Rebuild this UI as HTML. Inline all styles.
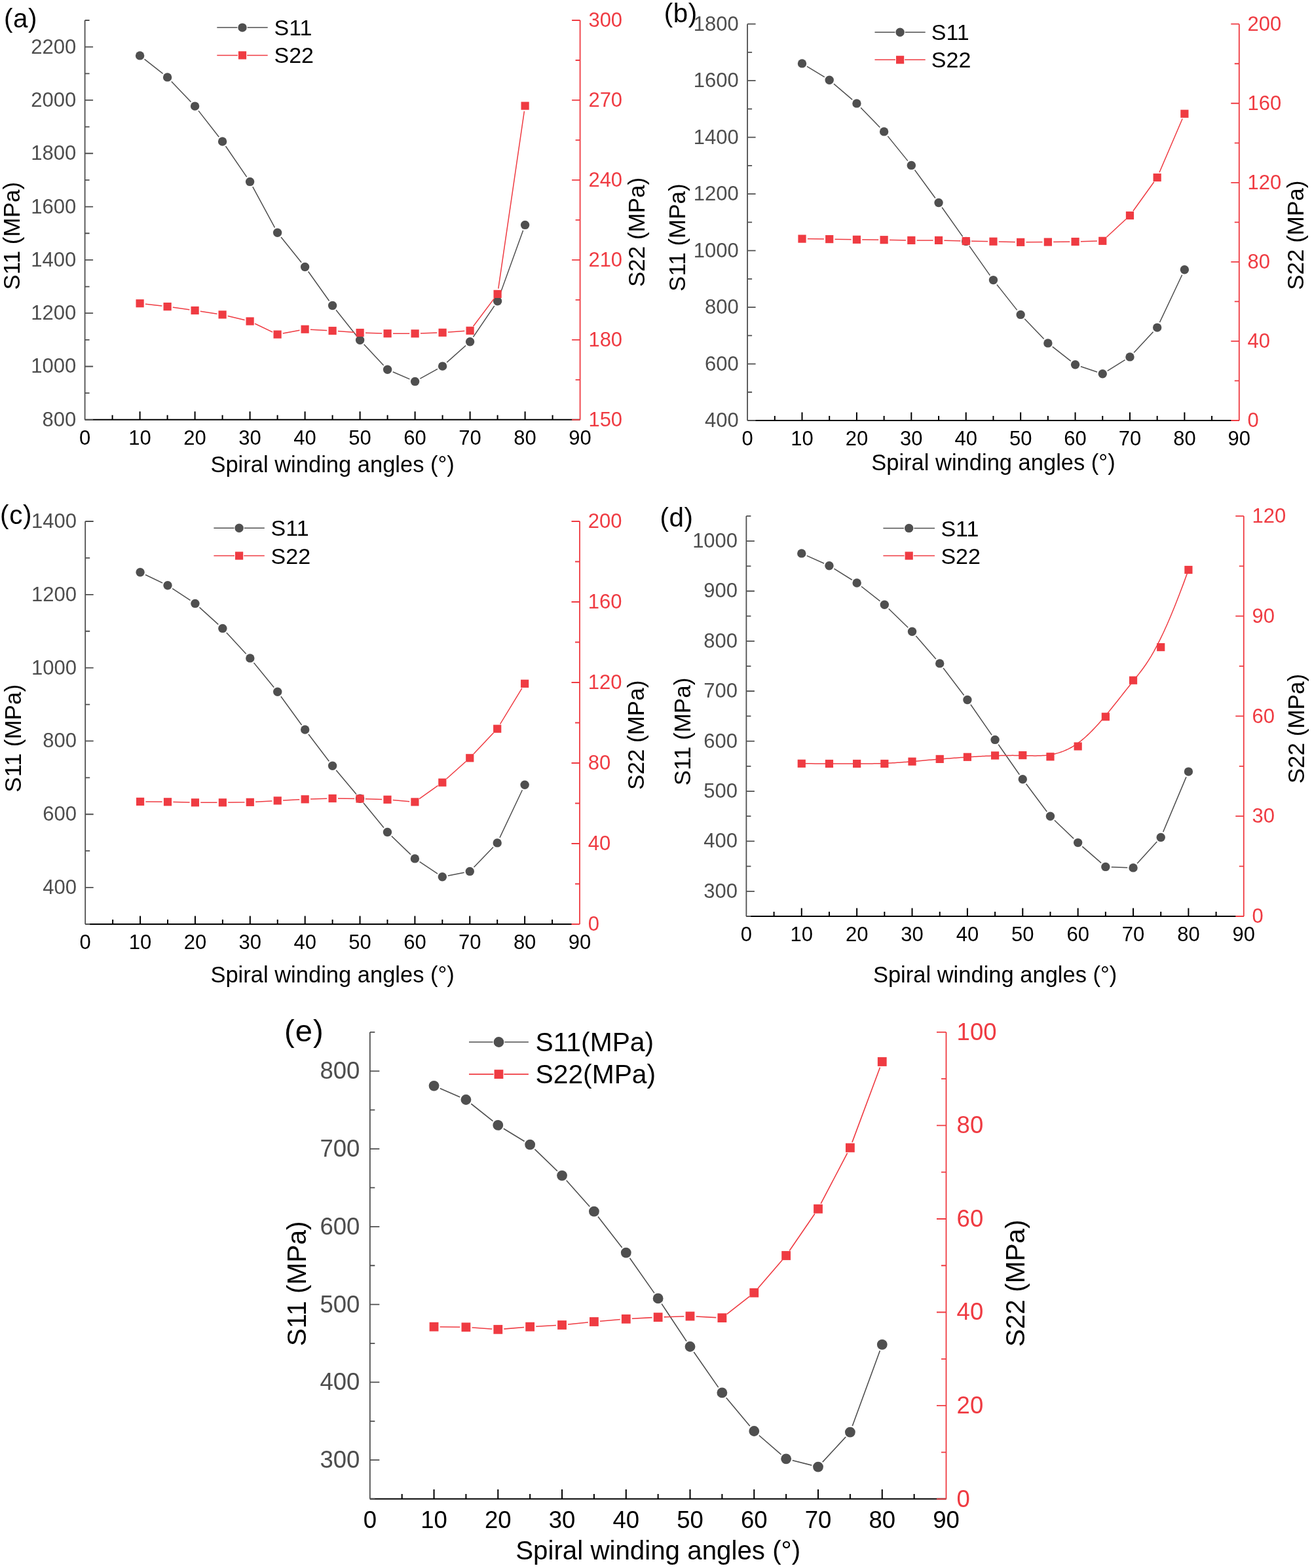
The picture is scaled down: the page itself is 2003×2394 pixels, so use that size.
<!DOCTYPE html>
<html><head><meta charset="utf-8"><title>Figure</title><style>html,body{margin:0;padding:0;background:#fff;overflow:hidden}svg{display:block}</style></head><body>
<svg width="2003" height="2394" viewBox="0 0 2003 2394" font-family="'Liberation Sans', Arial, sans-serif" fill="#000">
<rect width="2003" height="2394" fill="#fff"/>
<g id="pa">
<line x1="129.6" y1="640.8" x2="885.6" y2="640.8" stroke="#000" stroke-width="2"/>
<path d="M171.6 640.8v-7M213.6 640.8v-12.5M255.6 640.8v-7M297.6 640.8v-12.5M339.6 640.8v-7M381.6 640.8v-12.5M423.6 640.8v-7M465.6 640.8v-12.5M507.6 640.8v-7M549.6 640.8v-12.5M591.6 640.8v-7M633.6 640.8v-12.5M675.6 640.8v-7M717.6 640.8v-12.5M759.6 640.8v-7M801.6 640.8v-12.5M843.6 640.8v-7" stroke="#000" stroke-width="2" fill="none"/>
<g font-size="31" text-anchor="middle" fill="#000"><text x="129.6" y="678.8">0</text><text x="213.6" y="678.8">10</text><text x="297.6" y="678.8">20</text><text x="381.6" y="678.8">30</text><text x="465.6" y="678.8">40</text><text x="549.6" y="678.8">50</text><text x="633.6" y="678.8">60</text><text x="717.6" y="678.8">70</text><text x="801.6" y="678.8">80</text><text x="885.6" y="678.8">90</text></g>
<path d="M129.6 31V640.8M129.6 640.8h12.5M129.6 600.15h7M129.6 559.49h12.5M129.6 518.84h7M129.6 478.19h12.5M129.6 437.53h7M129.6 396.88h12.5M129.6 356.23h7M129.6 315.57h12.5M129.6 274.92h7M129.6 234.27h12.5M129.6 193.61h7M129.6 152.96h12.5M129.6 112.31h7M129.6 71.65h12.5M129.6 31h7" stroke="#4f4f4f" stroke-width="1.8" fill="none"/>
<g font-size="31" text-anchor="end" fill="#4d4d4d"><text x="116.3" y="650.8">800</text><text x="116.3" y="569.49">1000</text><text x="116.3" y="488.19">1200</text><text x="116.3" y="406.88">1400</text><text x="116.3" y="325.57">1600</text><text x="116.3" y="244.27">1800</text><text x="116.3" y="162.96">2000</text><text x="116.3" y="81.65">2200</text></g>
<path d="M885.6 31V640.8M885.6 640.8h-12.5M885.6 579.82h-7M885.6 518.84h-12.5M885.6 457.86h-7M885.6 396.88h-12.5M885.6 335.9h-7M885.6 274.92h-12.5M885.6 213.94h-7M885.6 152.96h-12.5M885.6 91.98h-7M885.6 31h-12.5" stroke="#ef3b42" stroke-width="1.8" fill="none"/>
<g font-size="31" text-anchor="start" fill="#ef3b42"><text x="898.4" y="650.9">150</text><text x="898.4" y="528.94">180</text><text x="898.4" y="406.98">210</text><text x="898.4" y="285.02">240</text><text x="898.4" y="163.06">270</text><text x="898.4" y="41.1">300</text></g>
<text x="507.6" y="721.1" font-size="34.5" text-anchor="middle">Spiral winding angles (°)</text>
<text transform="translate(30 360.2) rotate(-90)" font-size="35" text-anchor="middle">S11 (MPa)</text>
<text transform="translate(984 354.4) rotate(-90)" font-size="35" text-anchor="middle">S22 (MPa)</text>
<text x="6" y="42" font-size="40.4" letter-spacing="0.6">(a)</text>
<mask id="m11a" maskUnits="userSpaceOnUse" x="0" y="0" width="2003" height="2394"><rect width="2003" height="2394" fill="#fff"/><g fill="#000"><circle cx="213.6" cy="84.9" r="8.9"/><circle cx="255.6" cy="117.9" r="8.9"/><circle cx="297.6" cy="162.1" r="8.9"/><circle cx="339.6" cy="216" r="8.9"/><circle cx="381.6" cy="277.4" r="8.9"/><circle cx="423.6" cy="355.2" r="8.9"/><circle cx="465.6" cy="407.5" r="8.9"/><circle cx="507.6" cy="466.5" r="8.9"/><circle cx="549.6" cy="519.3" r="8.9"/><circle cx="591.6" cy="564.3" r="8.9"/><circle cx="633.6" cy="582.4" r="8.9"/><circle cx="675.6" cy="559.1" r="8.9"/><circle cx="717.6" cy="521.7" r="8.9"/><circle cx="759.6" cy="459.8" r="8.9"/><circle cx="801.6" cy="343.4" r="8.9"/></g></mask>
<mask id="m22a" maskUnits="userSpaceOnUse" x="0" y="0" width="2003" height="2394"><rect width="2003" height="2394" fill="#fff"/><g fill="#000"><circle cx="213.6" cy="463.2" r="8.4"/><circle cx="255.6" cy="468.1" r="8.4"/><circle cx="297.6" cy="474" r="8.4"/><circle cx="339.6" cy="480.4" r="8.4"/><circle cx="381.6" cy="490.5" r="8.4"/><circle cx="423.6" cy="510.6" r="8.4"/><circle cx="465.6" cy="502.7" r="8.4"/><circle cx="507.6" cy="505" r="8.4"/><circle cx="549.6" cy="508" r="8.4"/><circle cx="591.6" cy="509.2" r="8.4"/><circle cx="633.6" cy="509.3" r="8.4"/><circle cx="675.6" cy="507.8" r="8.4"/><circle cx="717.6" cy="504.8" r="8.4"/><circle cx="759.6" cy="448.9" r="8.4"/><circle cx="801.6" cy="161.6" r="8.4"/></g></mask>
<polyline points="213.6,84.9 255.6,117.9 297.6,162.1 339.6,216 381.6,277.4 423.6,355.2 465.6,407.5 507.6,466.5 549.6,519.3 591.6,564.3 633.6,582.4 675.6,559.1 717.6,521.7 759.6,459.8 801.6,343.4" fill="none" stroke="#4f4f4f" stroke-width="1.5" stroke-linejoin="round" mask="url(#m11a)"/>
<g fill="#4f4f4f"><circle cx="213.6" cy="84.9" r="6.7"/><circle cx="255.6" cy="117.9" r="6.7"/><circle cx="297.6" cy="162.1" r="6.7"/><circle cx="339.6" cy="216" r="6.7"/><circle cx="381.6" cy="277.4" r="6.7"/><circle cx="423.6" cy="355.2" r="6.7"/><circle cx="465.6" cy="407.5" r="6.7"/><circle cx="507.6" cy="466.5" r="6.7"/><circle cx="549.6" cy="519.3" r="6.7"/><circle cx="591.6" cy="564.3" r="6.7"/><circle cx="633.6" cy="582.4" r="6.7"/><circle cx="675.6" cy="559.1" r="6.7"/><circle cx="717.6" cy="521.7" r="6.7"/><circle cx="759.6" cy="459.8" r="6.7"/><circle cx="801.6" cy="343.4" r="6.7"/></g>
<polyline points="213.6,463.2 255.6,468.1 297.6,474 339.6,480.4 381.6,490.5 423.6,510.6 465.6,502.7 507.6,505 549.6,508 591.6,509.2 633.6,509.3 675.6,507.8 717.6,504.8 759.6,448.9 801.6,161.6" fill="none" stroke="#ef3b42" stroke-width="1.5" stroke-linejoin="round" mask="url(#m22a)"/>
<g fill="#ef3b42"><rect x="207.5" y="457.1" width="12.2" height="12.2"/><rect x="249.5" y="462" width="12.2" height="12.2"/><rect x="291.5" y="467.9" width="12.2" height="12.2"/><rect x="333.5" y="474.3" width="12.2" height="12.2"/><rect x="375.5" y="484.4" width="12.2" height="12.2"/><rect x="417.5" y="504.5" width="12.2" height="12.2"/><rect x="459.5" y="496.6" width="12.2" height="12.2"/><rect x="501.5" y="498.9" width="12.2" height="12.2"/><rect x="543.5" y="501.9" width="12.2" height="12.2"/><rect x="585.5" y="503.1" width="12.2" height="12.2"/><rect x="627.5" y="503.2" width="12.2" height="12.2"/><rect x="669.5" y="501.7" width="12.2" height="12.2"/><rect x="711.5" y="498.7" width="12.2" height="12.2"/><rect x="753.5" y="442.8" width="12.2" height="12.2"/><rect x="795.5" y="155.5" width="12.2" height="12.2"/></g>
<path d="M331.3 42.1H362.3M377.7 42.1H408.7" stroke="#4f4f4f" stroke-width="1.5"/>
<circle cx="370" cy="42.1" r="6.7" fill="#4f4f4f"/>
<path d="M331.3 84.4H362.9M377.1 84.4H408.7" stroke="#ef3b42" stroke-width="1.5"/>
<rect x="363.9" y="78.3" width="12.2" height="12.2" fill="#ef3b42"/>
<g font-size="34"><text x="418.5" y="54.1">S11</text><text x="418.5" y="96.3">S22</text></g>
</g>
<g id="pb">
<line x1="1141.1" y1="642" x2="1891.8" y2="642" stroke="#000" stroke-width="2"/>
<path d="M1182.81 642v-7M1224.51 642v-12.5M1266.22 642v-7M1307.92 642v-12.5M1349.63 642v-7M1391.33 642v-12.5M1433.04 642v-7M1474.74 642v-12.5M1516.45 642v-7M1558.16 642v-12.5M1599.86 642v-7M1641.57 642v-12.5M1683.27 642v-7M1724.98 642v-12.5M1766.68 642v-7M1808.39 642v-12.5M1850.09 642v-7" stroke="#000" stroke-width="2" fill="none"/>
<g font-size="31" text-anchor="middle" fill="#000"><text x="1141.1" y="680">0</text><text x="1224.51" y="680">10</text><text x="1307.92" y="680">20</text><text x="1391.33" y="680">30</text><text x="1474.74" y="680">40</text><text x="1558.16" y="680">50</text><text x="1641.57" y="680">60</text><text x="1724.98" y="680">70</text><text x="1808.39" y="680">80</text><text x="1891.8" y="680">90</text></g>
<path d="M1141.1 36.7V642M1141.1 642h12.5M1141.1 598.76h7M1141.1 555.53h12.5M1141.1 512.29h7M1141.1 469.06h12.5M1141.1 425.82h7M1141.1 382.59h12.5M1141.1 339.35h7M1141.1 296.11h12.5M1141.1 252.88h7M1141.1 209.64h12.5M1141.1 166.41h7M1141.1 123.17h12.5M1141.1 79.94h7M1141.1 36.7h12.5" stroke="#4f4f4f" stroke-width="1.8" fill="none"/>
<g font-size="31" text-anchor="end" fill="#4d4d4d"><text x="1127.8" y="652">400</text><text x="1127.8" y="565.53">600</text><text x="1127.8" y="479.06">800</text><text x="1127.8" y="392.59">1000</text><text x="1127.8" y="306.11">1200</text><text x="1127.8" y="219.64">1400</text><text x="1127.8" y="133.17">1600</text><text x="1127.8" y="46.7">1800</text></g>
<path d="M1891.8 36.7V642M1891.8 642h-12.5M1891.8 581.47h-7M1891.8 520.94h-12.5M1891.8 460.41h-7M1891.8 399.88h-12.5M1891.8 339.35h-7M1891.8 278.82h-12.5M1891.8 218.29h-7M1891.8 157.76h-12.5M1891.8 97.23h-7M1891.8 36.7h-12.5" stroke="#ef3b42" stroke-width="1.8" fill="none"/>
<g font-size="31" text-anchor="start" fill="#ef3b42"><text x="1904.6" y="652.1">0</text><text x="1904.6" y="531.04">40</text><text x="1904.6" y="409.98">80</text><text x="1904.6" y="288.92">120</text><text x="1904.6" y="167.86">160</text><text x="1904.6" y="46.8">200</text></g>
<text x="1516.45" y="718.2" font-size="34.5" text-anchor="middle">Spiral winding angles (°)</text>
<text transform="translate(1046 362.6) rotate(-90)" font-size="35" text-anchor="middle">S11 (MPa)</text>
<text transform="translate(1989.7 359.2) rotate(-90)" font-size="35" text-anchor="middle">S22 (MPa)</text>
<text x="1013.7" y="34.3" font-size="40.4" letter-spacing="0.6">(b)</text>
<mask id="m11b" maskUnits="userSpaceOnUse" x="0" y="0" width="2003" height="2394"><rect width="2003" height="2394" fill="#fff"/><g fill="#000"><circle cx="1224.51" cy="96.9" r="8.9"/><circle cx="1266.22" cy="122.2" r="8.9"/><circle cx="1307.92" cy="157.9" r="8.9"/><circle cx="1349.63" cy="200.9" r="8.9"/><circle cx="1391.33" cy="252.4" r="8.9"/><circle cx="1433.04" cy="309.5" r="8.9"/><circle cx="1474.74" cy="368.4" r="8.9"/><circle cx="1516.45" cy="427.6" r="8.9"/><circle cx="1558.16" cy="480.4" r="8.9"/><circle cx="1599.86" cy="523.9" r="8.9"/><circle cx="1641.57" cy="556.7" r="8.9"/><circle cx="1683.27" cy="570.8" r="8.9"/><circle cx="1724.98" cy="544.9" r="8.9"/><circle cx="1766.68" cy="500.1" r="8.9"/><circle cx="1808.39" cy="411.8" r="8.9"/></g></mask>
<mask id="m22b" maskUnits="userSpaceOnUse" x="0" y="0" width="2003" height="2394"><rect width="2003" height="2394" fill="#fff"/><g fill="#000"><circle cx="1224.51" cy="364.6" r="8.4"/><circle cx="1266.22" cy="365.1" r="8.4"/><circle cx="1307.92" cy="365.8" r="8.4"/><circle cx="1349.63" cy="366.2" r="8.4"/><circle cx="1391.33" cy="366.9" r="8.4"/><circle cx="1433.04" cy="366.9" r="8.4"/><circle cx="1474.74" cy="368.1" r="8.4"/><circle cx="1516.45" cy="368.7" r="8.4"/><circle cx="1558.16" cy="369.8" r="8.4"/><circle cx="1599.86" cy="369.5" r="8.4"/><circle cx="1641.57" cy="369" r="8.4"/><circle cx="1683.27" cy="367.8" r="8.4"/><circle cx="1724.98" cy="329" r="8.4"/><circle cx="1766.68" cy="271" r="8.4"/><circle cx="1808.39" cy="173.7" r="8.4"/></g></mask>
<polyline points="1224.51,96.9 1266.22,122.2 1307.92,157.9 1349.63,200.9 1391.33,252.4 1433.04,309.5 1474.74,368.4 1516.45,427.6 1558.16,480.4 1599.86,523.9 1641.57,556.7 1683.27,570.8 1724.98,544.9 1766.68,500.1 1808.39,411.8" fill="none" stroke="#4f4f4f" stroke-width="1.5" stroke-linejoin="round" mask="url(#m11b)"/>
<g fill="#4f4f4f"><circle cx="1224.51" cy="96.9" r="6.7"/><circle cx="1266.22" cy="122.2" r="6.7"/><circle cx="1307.92" cy="157.9" r="6.7"/><circle cx="1349.63" cy="200.9" r="6.7"/><circle cx="1391.33" cy="252.4" r="6.7"/><circle cx="1433.04" cy="309.5" r="6.7"/><circle cx="1474.74" cy="368.4" r="6.7"/><circle cx="1516.45" cy="427.6" r="6.7"/><circle cx="1558.16" cy="480.4" r="6.7"/><circle cx="1599.86" cy="523.9" r="6.7"/><circle cx="1641.57" cy="556.7" r="6.7"/><circle cx="1683.27" cy="570.8" r="6.7"/><circle cx="1724.98" cy="544.9" r="6.7"/><circle cx="1766.68" cy="500.1" r="6.7"/><circle cx="1808.39" cy="411.8" r="6.7"/></g>
<polyline points="1224.51,364.6 1266.22,365.1 1307.92,365.8 1349.63,366.2 1391.33,366.9 1433.04,366.9 1474.74,368.1 1516.45,368.7 1558.16,369.8 1599.86,369.5 1641.57,369 1683.27,367.8 1724.98,329 1766.68,271 1808.39,173.7" fill="none" stroke="#ef3b42" stroke-width="1.5" stroke-linejoin="round" mask="url(#m22b)"/>
<g fill="#ef3b42"><rect x="1218.41" y="358.5" width="12.2" height="12.2"/><rect x="1260.12" y="359" width="12.2" height="12.2"/><rect x="1301.82" y="359.7" width="12.2" height="12.2"/><rect x="1343.53" y="360.1" width="12.2" height="12.2"/><rect x="1385.23" y="360.8" width="12.2" height="12.2"/><rect x="1426.94" y="360.8" width="12.2" height="12.2"/><rect x="1468.64" y="362" width="12.2" height="12.2"/><rect x="1510.35" y="362.6" width="12.2" height="12.2"/><rect x="1552.06" y="363.7" width="12.2" height="12.2"/><rect x="1593.76" y="363.4" width="12.2" height="12.2"/><rect x="1635.47" y="362.9" width="12.2" height="12.2"/><rect x="1677.17" y="361.7" width="12.2" height="12.2"/><rect x="1718.88" y="322.9" width="12.2" height="12.2"/><rect x="1760.58" y="264.9" width="12.2" height="12.2"/><rect x="1802.29" y="167.6" width="12.2" height="12.2"/></g>
<path d="M1335.5 49.3H1366.4M1381.8 49.3H1412.7" stroke="#4f4f4f" stroke-width="1.5"/>
<circle cx="1374.1" cy="49.3" r="6.7" fill="#4f4f4f"/>
<path d="M1335.5 91.3H1367M1381.2 91.3H1412.7" stroke="#ef3b42" stroke-width="1.5"/>
<rect x="1368" y="85.2" width="12.2" height="12.2" fill="#ef3b42"/>
<g font-size="34"><text x="1421.8" y="61.1">S11</text><text x="1421.8" y="103.3">S22</text></g>
</g>
<g id="pc">
<line x1="130.2" y1="1411" x2="885" y2="1411" stroke="#000" stroke-width="2"/>
<path d="M172.13 1411v-7M214.07 1411v-12.5M256 1411v-7M297.93 1411v-12.5M339.87 1411v-7M381.8 1411v-12.5M423.73 1411v-7M465.67 1411v-12.5M507.6 1411v-7M549.53 1411v-12.5M591.47 1411v-7M633.4 1411v-12.5M675.33 1411v-7M717.27 1411v-12.5M759.2 1411v-7M801.13 1411v-12.5M843.07 1411v-7" stroke="#000" stroke-width="2" fill="none"/>
<g font-size="31" text-anchor="middle" fill="#000"><text x="130.2" y="1449">0</text><text x="214.07" y="1449">10</text><text x="297.93" y="1449">20</text><text x="381.8" y="1449">30</text><text x="465.67" y="1449">40</text><text x="549.53" y="1449">50</text><text x="633.4" y="1449">60</text><text x="717.27" y="1449">70</text><text x="801.13" y="1449">80</text><text x="885" y="1449">90</text></g>
<path d="M130.2 796V1411M130.2 1411h7M130.2 1355.09h12.5M130.2 1299.18h7M130.2 1243.27h12.5M130.2 1187.36h7M130.2 1131.45h12.5M130.2 1075.55h7M130.2 1019.64h12.5M130.2 963.73h7M130.2 907.82h12.5M130.2 851.91h7M130.2 796h12.5" stroke="#4f4f4f" stroke-width="1.8" fill="none"/>
<g font-size="31" text-anchor="end" fill="#4d4d4d"><text x="116.9" y="1365.09">400</text><text x="116.9" y="1253.27">600</text><text x="116.9" y="1141.45">800</text><text x="116.9" y="1029.64">1000</text><text x="116.9" y="917.82">1200</text><text x="116.9" y="806">1400</text></g>
<path d="M885 796V1411M885 1411h-12.5M885 1349.5h-7M885 1288h-12.5M885 1226.5h-7M885 1165h-12.5M885 1103.5h-7M885 1042h-12.5M885 980.5h-7M885 919h-12.5M885 857.5h-7M885 796h-12.5" stroke="#ef3b42" stroke-width="1.8" fill="none"/>
<g font-size="31" text-anchor="start" fill="#ef3b42"><text x="897.8" y="1421.1">0</text><text x="897.8" y="1298.1">40</text><text x="897.8" y="1175.1">80</text><text x="897.8" y="1052.1">120</text><text x="897.8" y="929.1">160</text><text x="897.8" y="806.1">200</text></g>
<text x="507.6" y="1499.6" font-size="34.5" text-anchor="middle">Spiral winding angles (°)</text>
<text transform="translate(32.2 1127.3) rotate(-90)" font-size="35" text-anchor="middle">S11 (MPa)</text>
<text transform="translate(982.7 1122.3) rotate(-90)" font-size="35" text-anchor="middle">S22 (MPa)</text>
<text x="0.1" y="800" font-size="40.4" letter-spacing="0.6">(c)</text>
<mask id="m11c" maskUnits="userSpaceOnUse" x="0" y="0" width="2003" height="2394"><rect width="2003" height="2394" fill="#fff"/><g fill="#000"><circle cx="214.07" cy="873.7" r="8.9"/><circle cx="256" cy="893.8" r="8.9"/><circle cx="297.93" cy="921.4" r="8.9"/><circle cx="339.87" cy="959.4" r="8.9"/><circle cx="381.8" cy="1004.9" r="8.9"/><circle cx="423.73" cy="1056.3" r="8.9"/><circle cx="465.67" cy="1114" r="8.9"/><circle cx="507.6" cy="1169.3" r="8.9"/><circle cx="549.53" cy="1219.2" r="8.9"/><circle cx="591.47" cy="1270.5" r="8.9"/><circle cx="633.4" cy="1310.9" r="8.9"/><circle cx="675.33" cy="1338.8" r="8.9"/><circle cx="717.27" cy="1330.4" r="8.9"/><circle cx="759.2" cy="1286.9" r="8.9"/><circle cx="801.13" cy="1198.2" r="8.9"/></g></mask>
<mask id="m22c" maskUnits="userSpaceOnUse" x="0" y="0" width="2003" height="2394"><rect width="2003" height="2394" fill="#fff"/><g fill="#000"><circle cx="214.07" cy="1223.9" r="8.4"/><circle cx="256" cy="1224.3" r="8.4"/><circle cx="297.93" cy="1225.3" r="8.4"/><circle cx="339.87" cy="1225.3" r="8.4"/><circle cx="381.8" cy="1224.8" r="8.4"/><circle cx="423.73" cy="1222.4" r="8.4"/><circle cx="465.67" cy="1220.3" r="8.4"/><circle cx="507.6" cy="1219" r="8.4"/><circle cx="549.53" cy="1219.5" r="8.4"/><circle cx="591.47" cy="1220.8" r="8.4"/><circle cx="633.4" cy="1224.4" r="8.4"/><circle cx="675.33" cy="1194.7" r="8.4"/><circle cx="717.27" cy="1157.3" r="8.4"/><circle cx="759.2" cy="1112.7" r="8.4"/><circle cx="801.13" cy="1043.8" r="8.4"/></g></mask>
<polyline points="214.07,873.7 256,893.8 297.93,921.4 339.87,959.4 381.8,1004.9 423.73,1056.3 465.67,1114 507.6,1169.3 549.53,1219.2 591.47,1270.5 633.4,1310.9 675.33,1338.8 717.27,1330.4 759.2,1286.9 801.13,1198.2" fill="none" stroke="#4f4f4f" stroke-width="1.5" stroke-linejoin="round" mask="url(#m11c)"/>
<g fill="#4f4f4f"><circle cx="214.07" cy="873.7" r="6.7"/><circle cx="256" cy="893.8" r="6.7"/><circle cx="297.93" cy="921.4" r="6.7"/><circle cx="339.87" cy="959.4" r="6.7"/><circle cx="381.8" cy="1004.9" r="6.7"/><circle cx="423.73" cy="1056.3" r="6.7"/><circle cx="465.67" cy="1114" r="6.7"/><circle cx="507.6" cy="1169.3" r="6.7"/><circle cx="549.53" cy="1219.2" r="6.7"/><circle cx="591.47" cy="1270.5" r="6.7"/><circle cx="633.4" cy="1310.9" r="6.7"/><circle cx="675.33" cy="1338.8" r="6.7"/><circle cx="717.27" cy="1330.4" r="6.7"/><circle cx="759.2" cy="1286.9" r="6.7"/><circle cx="801.13" cy="1198.2" r="6.7"/></g>
<polyline points="214.07,1223.9 256,1224.3 297.93,1225.3 339.87,1225.3 381.8,1224.8 423.73,1222.4 465.67,1220.3 507.6,1219 549.53,1219.5 591.47,1220.8 633.4,1224.4 675.33,1194.7 717.27,1157.3 759.2,1112.7 801.13,1043.8" fill="none" stroke="#ef3b42" stroke-width="1.5" stroke-linejoin="round" mask="url(#m22c)"/>
<g fill="#ef3b42"><rect x="207.97" y="1217.8" width="12.2" height="12.2"/><rect x="249.9" y="1218.2" width="12.2" height="12.2"/><rect x="291.83" y="1219.2" width="12.2" height="12.2"/><rect x="333.77" y="1219.2" width="12.2" height="12.2"/><rect x="375.7" y="1218.7" width="12.2" height="12.2"/><rect x="417.63" y="1216.3" width="12.2" height="12.2"/><rect x="459.57" y="1214.2" width="12.2" height="12.2"/><rect x="501.5" y="1212.9" width="12.2" height="12.2"/><rect x="543.43" y="1213.4" width="12.2" height="12.2"/><rect x="585.37" y="1214.7" width="12.2" height="12.2"/><rect x="627.3" y="1218.3" width="12.2" height="12.2"/><rect x="669.23" y="1188.6" width="12.2" height="12.2"/><rect x="711.17" y="1151.2" width="12.2" height="12.2"/><rect x="753.1" y="1106.6" width="12.2" height="12.2"/><rect x="795.03" y="1037.7" width="12.2" height="12.2"/></g>
<path d="M326.4 806.2H357.4M372.8 806.2H403.8" stroke="#4f4f4f" stroke-width="1.5"/>
<circle cx="365.1" cy="806.2" r="6.7" fill="#4f4f4f"/>
<path d="M326.4 848.5H358M372.2 848.5H403.8" stroke="#ef3b42" stroke-width="1.5"/>
<rect x="359" y="842.4" width="12.2" height="12.2" fill="#ef3b42"/>
<g font-size="34"><text x="413.6" y="818.2">S11</text><text x="413.6" y="860.8">S22</text></g>
</g>
<g id="pd">
<line x1="1139.4" y1="1399" x2="1898.8" y2="1399" stroke="#000" stroke-width="2"/>
<path d="M1181.59 1399v-7M1223.78 1399v-12.5M1265.97 1399v-7M1308.16 1399v-12.5M1350.34 1399v-7M1392.53 1399v-12.5M1434.72 1399v-7M1476.91 1399v-12.5M1519.1 1399v-7M1561.29 1399v-12.5M1603.48 1399v-7M1645.67 1399v-12.5M1687.86 1399v-7M1730.04 1399v-12.5M1772.23 1399v-7M1814.42 1399v-12.5M1856.61 1399v-7" stroke="#000" stroke-width="2" fill="none"/>
<g font-size="31" text-anchor="middle" fill="#000"><text x="1139.4" y="1437">0</text><text x="1223.78" y="1437">10</text><text x="1308.16" y="1437">20</text><text x="1392.53" y="1437">30</text><text x="1476.91" y="1437">40</text><text x="1561.29" y="1437">50</text><text x="1645.67" y="1437">60</text><text x="1730.04" y="1437">70</text><text x="1814.42" y="1437">80</text><text x="1898.8" y="1437">90</text></g>
<path d="M1139.4 787.9V1399M1139.4 1399h7M1139.4 1360.81h12.5M1139.4 1322.61h7M1139.4 1284.42h12.5M1139.4 1246.22h7M1139.4 1208.03h12.5M1139.4 1169.84h7M1139.4 1131.64h12.5M1139.4 1093.45h7M1139.4 1055.26h12.5M1139.4 1017.06h7M1139.4 978.87h12.5M1139.4 940.67h7M1139.4 902.48h12.5M1139.4 864.29h7M1139.4 826.09h12.5M1139.4 787.9h7" stroke="#4f4f4f" stroke-width="1.8" fill="none"/>
<g font-size="31" text-anchor="end" fill="#4d4d4d"><text x="1126.1" y="1370.81">300</text><text x="1126.1" y="1294.42">400</text><text x="1126.1" y="1218.03">500</text><text x="1126.1" y="1141.64">600</text><text x="1126.1" y="1065.26">700</text><text x="1126.1" y="988.87">800</text><text x="1126.1" y="912.48">900</text><text x="1126.1" y="836.09">1000</text></g>
<path d="M1898.8 787.9V1399M1898.8 1399h-12.5M1898.8 1322.61h-7M1898.8 1246.22h-12.5M1898.8 1169.84h-7M1898.8 1093.45h-12.5M1898.8 1017.06h-7M1898.8 940.67h-12.5M1898.8 864.29h-7M1898.8 787.9h-12.5" stroke="#ef3b42" stroke-width="1.8" fill="none"/>
<g font-size="31" text-anchor="start" fill="#ef3b42"><text x="1911.6" y="1409.1">0</text><text x="1911.6" y="1256.32">30</text><text x="1911.6" y="1103.55">60</text><text x="1911.6" y="950.77">90</text><text x="1911.6" y="798">120</text></g>
<text x="1519.1" y="1500" font-size="34.5" text-anchor="middle">Spiral winding angles (°)</text>
<text transform="translate(1053.6 1117) rotate(-90)" font-size="35" text-anchor="middle">S11 (MPa)</text>
<text transform="translate(1991.2 1112.6) rotate(-90)" font-size="35" text-anchor="middle">S22 (MPa)</text>
<text x="1007.4" y="804.3" font-size="40.4" letter-spacing="0.6">(d)</text>
<mask id="m11d" maskUnits="userSpaceOnUse" x="0" y="0" width="2003" height="2394"><rect width="2003" height="2394" fill="#fff"/><g fill="#000"><circle cx="1223.78" cy="844.9" r="8.9"/><circle cx="1265.97" cy="863.7" r="8.9"/><circle cx="1308.16" cy="890" r="8.9"/><circle cx="1350.34" cy="923.2" r="8.9"/><circle cx="1392.53" cy="964.2" r="8.9"/><circle cx="1434.72" cy="1012.9" r="8.9"/><circle cx="1476.91" cy="1068.5" r="8.9"/><circle cx="1519.1" cy="1129.4" r="8.9"/><circle cx="1561.29" cy="1189.8" r="8.9"/><circle cx="1603.48" cy="1246.2" r="8.9"/><circle cx="1645.67" cy="1286.6" r="8.9"/><circle cx="1687.86" cy="1323.4" r="8.9"/><circle cx="1730.04" cy="1324.9" r="8.9"/><circle cx="1772.23" cy="1278.5" r="8.9"/><circle cx="1814.42" cy="1178.1" r="8.9"/></g></mask>
<polyline points="1223.78,844.9 1265.97,863.7 1308.16,890 1350.34,923.2 1392.53,964.2 1434.72,1012.9 1476.91,1068.5 1519.1,1129.4 1561.29,1189.8 1603.48,1246.2 1645.67,1286.6 1687.86,1323.4 1730.04,1324.9 1772.23,1278.5 1814.42,1178.1" fill="none" stroke="#4f4f4f" stroke-width="1.5" stroke-linejoin="round" mask="url(#m11d)"/>
<g fill="#4f4f4f"><circle cx="1223.78" cy="844.9" r="6.7"/><circle cx="1265.97" cy="863.7" r="6.7"/><circle cx="1308.16" cy="890" r="6.7"/><circle cx="1350.34" cy="923.2" r="6.7"/><circle cx="1392.53" cy="964.2" r="6.7"/><circle cx="1434.72" cy="1012.9" r="6.7"/><circle cx="1476.91" cy="1068.5" r="6.7"/><circle cx="1519.1" cy="1129.4" r="6.7"/><circle cx="1561.29" cy="1189.8" r="6.7"/><circle cx="1603.48" cy="1246.2" r="6.7"/><circle cx="1645.67" cy="1286.6" r="6.7"/><circle cx="1687.86" cy="1323.4" r="6.7"/><circle cx="1730.04" cy="1324.9" r="6.7"/><circle cx="1772.23" cy="1278.5" r="6.7"/><circle cx="1814.42" cy="1178.1" r="6.7"/></g>
<polyline points="1223.78,1165.8 1231.18,1165.83 1238.15,1165.86 1244.71,1165.89 1250.87,1165.91 1256.67,1165.93 1262.12,1165.95 1267.25,1165.96 1272.08,1165.97 1276.64,1165.98 1280.94,1165.99 1285.02,1165.99 1288.89,1166 1292.57,1166 1296.1,1166 1299.49,1166 1302.77,1166 1305.96,1166 1309.07,1166 1312.11,1166 1315.09,1166 1318,1165.99 1320.86,1165.98 1323.67,1165.97 1326.43,1165.95 1329.15,1165.93 1331.83,1165.9 1334.48,1165.86 1337.09,1165.82 1339.69,1165.77 1342.26,1165.71 1344.82,1165.64 1347.38,1165.56 1349.92,1165.47 1352.46,1165.36 1355.01,1165.25 1357.55,1165.12 1360.1,1164.99 1362.64,1164.84 1365.18,1164.69 1367.73,1164.52 1370.27,1164.35 1372.82,1164.17 1375.36,1163.99 1377.91,1163.8 1380.45,1163.6 1382.99,1163.4 1385.54,1163.2 1388.08,1162.99 1390.63,1162.78 1393.17,1162.56 1395.71,1162.35 1398.26,1162.13 1400.8,1161.91 1403.35,1161.69 1405.89,1161.47 1408.43,1161.25 1410.98,1161.03 1413.52,1160.81 1416.07,1160.59 1418.61,1160.37 1421.15,1160.16 1423.7,1159.94 1426.24,1159.72 1428.79,1159.51 1431.33,1159.3 1433.87,1159.09 1436.42,1158.88 1438.96,1158.67 1441.51,1158.47 1444.05,1158.27 1446.59,1158.07 1449.14,1157.88 1451.68,1157.69 1454.23,1157.5 1456.77,1157.31 1459.31,1157.13 1461.86,1156.95 1464.4,1156.77 1466.95,1156.59 1469.49,1156.42 1472.04,1156.25 1474.58,1156.08 1477.12,1155.92 1479.67,1155.76 1482.21,1155.6 1484.76,1155.45 1487.3,1155.3 1489.84,1155.15 1492.39,1155.01 1494.93,1154.87 1497.48,1154.73 1500.02,1154.6 1502.56,1154.48 1505.11,1154.36 1507.65,1154.25 1510.2,1154.14 1512.74,1154.04 1515.28,1153.95 1517.83,1153.86 1520.37,1153.78 1522.92,1153.7 1525.46,1153.64 1528,1153.58 1530.55,1153.52 1533.09,1153.48 1535.64,1153.44 1538.18,1153.41 1540.72,1153.39 1543.27,1153.38 1545.81,1153.37 1548.36,1153.38 1550.9,1153.39 1553.44,1153.41 1555.99,1153.44 1558.53,1153.48 1561.08,1153.53 1563.62,1153.59 1566.16,1153.65 1568.71,1153.71 1571.25,1153.77 1573.8,1153.82 1576.34,1153.86 1578.89,1153.89 1581.43,1153.89 1583.97,1153.86 1586.52,1153.8 1589.06,1153.71 1591.61,1153.58 1594.15,1153.4 1596.69,1153.18 1599.24,1152.9 1601.78,1152.56 1604.33,1152.16 1606.87,1151.69 1609.41,1151.16 1611.96,1150.55 1614.5,1149.87 1617.05,1149.12 1619.59,1148.28 1622.13,1147.37 1624.68,1146.37 1627.22,1145.28 1629.77,1144.11 1632.31,1142.84 1634.85,1141.48 1637.4,1140.03 1639.94,1138.47 1642.49,1136.82 1645.03,1135.06 1647.57,1133.19 1650.12,1131.22 1652.66,1129.15 1655.21,1126.99 1657.75,1124.73 1660.29,1122.39 1662.84,1119.96 1665.38,1117.46 1667.93,1114.88 1670.47,1112.23 1673.02,1109.51 1675.56,1106.74 1678.1,1103.9 1680.65,1101.01 1683.19,1098.07 1685.74,1095.09 1688.28,1092.06 1690.82,1088.99 1693.38,1085.89 1695.94,1082.74 1698.51,1079.55 1701.11,1076.31 1703.72,1073.02 1706.37,1069.68 1709.05,1066.29 1711.77,1062.84 1714.53,1059.33 1717.34,1055.77 1720.2,1052.14 1723.11,1048.45 1726.09,1044.69 1729.13,1040.86 1732.24,1036.96 1735.43,1032.99 1738.71,1028.87 1742.1,1024.49 1745.63,1019.73 1749.31,1014.48 1753.18,1008.62 1757.26,1002.02 1761.56,994.58 1766.12,986.17 1770.95,976.67 1776.08,965.98 1781.53,953.97 1787.33,940.52 1793.49,925.51 1800.05,908.84 1807.02,890.37 1814.42,870" fill="none" stroke="#ef3b42" stroke-width="1.5" stroke-linejoin="round"/>
<g fill="#ef3b42"><rect x="1217.68" y="1159.7" width="12.2" height="12.2"/><rect x="1259.87" y="1159.9" width="12.2" height="12.2"/><rect x="1302.06" y="1159.9" width="12.2" height="12.2"/><rect x="1344.24" y="1159.9" width="12.2" height="12.2"/><rect x="1386.43" y="1156.6" width="12.2" height="12.2"/><rect x="1428.62" y="1152.8" width="12.2" height="12.2"/><rect x="1470.81" y="1149.7" width="12.2" height="12.2"/><rect x="1513" y="1147.4" width="12.2" height="12.2"/><rect x="1555.19" y="1147" width="12.2" height="12.2"/><rect x="1597.38" y="1149.2" width="12.2" height="12.2"/><rect x="1639.57" y="1133.4" width="12.2" height="12.2"/><rect x="1681.76" y="1088.2" width="12.2" height="12.2"/><rect x="1723.94" y="1032.6" width="12.2" height="12.2"/><rect x="1766.13" y="982" width="12.2" height="12.2"/><rect x="1808.32" y="863.9" width="12.2" height="12.2"/></g>
<path d="M1348.4 806.4H1380M1395.4 806.4H1427" stroke="#4f4f4f" stroke-width="1.5"/>
<circle cx="1387.7" cy="806.4" r="6.7" fill="#4f4f4f"/>
<path d="M1348.4 848.5H1380.6M1394.8 848.5H1427" stroke="#ef3b42" stroke-width="1.5"/>
<rect x="1381.6" y="842.4" width="12.2" height="12.2" fill="#ef3b42"/>
<g font-size="34"><text x="1436.4" y="818.7">S11</text><text x="1436.4" y="860.8">S22</text></g>
</g>
<g id="pe">
<line x1="564.8" y1="2288.6" x2="1444.5" y2="2288.6" stroke="#000" stroke-width="2"/>
<path d="M613.67 2288.6v-7.5M662.54 2288.6v-14.5M711.42 2288.6v-7.5M760.29 2288.6v-14.5M809.16 2288.6v-7.5M858.03 2288.6v-14.5M906.91 2288.6v-7.5M955.78 2288.6v-14.5M1004.65 2288.6v-7.5M1053.52 2288.6v-14.5M1102.39 2288.6v-7.5M1151.27 2288.6v-14.5M1200.14 2288.6v-7.5M1249.01 2288.6v-14.5M1297.88 2288.6v-7.5M1346.76 2288.6v-14.5M1395.63 2288.6v-7.5" stroke="#000" stroke-width="2" fill="none"/>
<g font-size="36.5" text-anchor="middle" fill="#000"><text x="564.8" y="2333.1">0</text><text x="662.54" y="2333.1">10</text><text x="760.29" y="2333.1">20</text><text x="858.03" y="2333.1">30</text><text x="955.78" y="2333.1">40</text><text x="1053.52" y="2333.1">50</text><text x="1151.27" y="2333.1">60</text><text x="1249.01" y="2333.1">70</text><text x="1346.76" y="2333.1">80</text><text x="1444.5" y="2333.1">90</text></g>
<path d="M564.8 1575.9V2288.6M564.8 2288.6h7.5M564.8 2229.21h14.5M564.8 2169.82h7.5M564.8 2110.43h14.5M564.8 2051.03h7.5M564.8 1991.64h14.5M564.8 1932.25h7.5M564.8 1872.86h14.5M564.8 1813.47h7.5M564.8 1754.08h14.5M564.8 1694.68h7.5M564.8 1635.29h14.5M564.8 1575.9h7.5" stroke="#4f4f4f" stroke-width="1.8" fill="none"/>
<g font-size="36.5" text-anchor="end" fill="#4d4d4d"><text x="549.4" y="2241.11">300</text><text x="549.4" y="2122.33">400</text><text x="549.4" y="2003.54">500</text><text x="549.4" y="1884.76">600</text><text x="549.4" y="1765.98">700</text><text x="549.4" y="1647.19">800</text></g>
<path d="M1444.5 1575.9V2288.6M1444.5 2288.6h-14.5M1444.5 2217.33h-7.5M1444.5 2146.06h-14.5M1444.5 2074.79h-7.5M1444.5 2003.52h-14.5M1444.5 1932.25h-7.5M1444.5 1860.98h-14.5M1444.5 1789.71h-7.5M1444.5 1718.44h-14.5M1444.5 1647.17h-7.5M1444.5 1575.9h-14.5" stroke="#ef3b42" stroke-width="1.8" fill="none"/>
<g font-size="36.5" text-anchor="start" fill="#ef3b42"><text x="1460.6" y="2300.5">0</text><text x="1460.6" y="2157.96">20</text><text x="1460.6" y="2015.42">40</text><text x="1460.6" y="1872.88">60</text><text x="1460.6" y="1730.34">80</text><text x="1460.6" y="1587.8">100</text></g>
<text x="1004.65" y="2381" font-size="40.3" text-anchor="middle">Spiral winding angles (°)</text>
<text transform="translate(466.7 1959.9) rotate(-90)" font-size="40.6" text-anchor="middle">S11 (MPa)</text>
<text transform="translate(1563.8 1959.3) rotate(-90)" font-size="40.6" text-anchor="middle">S22 (MPa)</text>
<text x="434.1" y="1590.4" font-size="47.1" letter-spacing="1">(e)</text>
<mask id="m11e" maskUnits="userSpaceOnUse" x="0" y="0" width="2003" height="2394"><rect width="2003" height="2394" fill="#fff"/><g fill="#000"><circle cx="662.54" cy="1657.8" r="10.1"/><circle cx="711.42" cy="1679" r="10.1"/><circle cx="760.29" cy="1717.9" r="10.1"/><circle cx="809.16" cy="1747.7" r="10.1"/><circle cx="858.03" cy="1794.8" r="10.1"/><circle cx="906.91" cy="1849.7" r="10.1"/><circle cx="955.78" cy="1912.7" r="10.1"/><circle cx="1004.65" cy="1982.4" r="10.1"/><circle cx="1053.52" cy="2056" r="10.1"/><circle cx="1102.39" cy="2126.4" r="10.1"/><circle cx="1151.27" cy="2185" r="10.1"/><circle cx="1200.14" cy="2227.3" r="10.1"/><circle cx="1249.01" cy="2239.6" r="10.1"/><circle cx="1297.88" cy="2186.6" r="10.1"/><circle cx="1346.76" cy="2052.9" r="10.1"/></g></mask>
<mask id="m22e" maskUnits="userSpaceOnUse" x="0" y="0" width="2003" height="2394"><rect width="2003" height="2394" fill="#fff"/><g fill="#000"><circle cx="662.54" cy="2025.7" r="9.2"/><circle cx="711.42" cy="2026.3" r="9.2"/><circle cx="760.29" cy="2029.8" r="9.2"/><circle cx="809.16" cy="2025.7" r="9.2"/><circle cx="858.03" cy="2023" r="9.2"/><circle cx="906.91" cy="2018" r="9.2"/><circle cx="955.78" cy="2013.8" r="9.2"/><circle cx="1004.65" cy="2011.1" r="9.2"/><circle cx="1053.52" cy="2009.5" r="9.2"/><circle cx="1102.39" cy="2012.1" r="9.2"/><circle cx="1151.27" cy="1973.8" r="9.2"/><circle cx="1200.14" cy="1917" r="9.2"/><circle cx="1249.01" cy="1845.7" r="9.2"/><circle cx="1297.88" cy="1752.4" r="9.2"/><circle cx="1346.76" cy="1621" r="9.2"/></g></mask>
<polyline points="662.54,1657.8 711.42,1679 760.29,1717.9 809.16,1747.7 858.03,1794.8 906.91,1849.7 955.78,1912.7 1004.65,1982.4 1053.52,2056 1102.39,2126.4 1151.27,2185 1200.14,2227.3 1249.01,2239.6 1297.88,2186.6 1346.76,2052.9" fill="none" stroke="#4f4f4f" stroke-width="1.6" stroke-linejoin="round" mask="url(#m11e)"/>
<g fill="#4f4f4f"><circle cx="662.54" cy="1657.8" r="7.9"/><circle cx="711.42" cy="1679" r="7.9"/><circle cx="760.29" cy="1717.9" r="7.9"/><circle cx="809.16" cy="1747.7" r="7.9"/><circle cx="858.03" cy="1794.8" r="7.9"/><circle cx="906.91" cy="1849.7" r="7.9"/><circle cx="955.78" cy="1912.7" r="7.9"/><circle cx="1004.65" cy="1982.4" r="7.9"/><circle cx="1053.52" cy="2056" r="7.9"/><circle cx="1102.39" cy="2126.4" r="7.9"/><circle cx="1151.27" cy="2185" r="7.9"/><circle cx="1200.14" cy="2227.3" r="7.9"/><circle cx="1249.01" cy="2239.6" r="7.9"/><circle cx="1297.88" cy="2186.6" r="7.9"/><circle cx="1346.76" cy="2052.9" r="7.9"/></g>
<polyline points="662.54,2025.7 711.42,2026.3 760.29,2029.8 809.16,2025.7 858.03,2023 906.91,2018 955.78,2013.8 1004.65,2011.1 1053.52,2009.5 1102.39,2012.1 1151.27,1973.8 1200.14,1917 1249.01,1845.7 1297.88,1752.4 1346.76,1621" fill="none" stroke="#ef3b42" stroke-width="1.6" stroke-linejoin="round" mask="url(#m22e)"/>
<g fill="#ef3b42"><rect x="655.64" y="2018.8" width="13.8" height="13.8"/><rect x="704.52" y="2019.4" width="13.8" height="13.8"/><rect x="753.39" y="2022.9" width="13.8" height="13.8"/><rect x="802.26" y="2018.8" width="13.8" height="13.8"/><rect x="851.13" y="2016.1" width="13.8" height="13.8"/><rect x="900.01" y="2011.1" width="13.8" height="13.8"/><rect x="948.88" y="2006.9" width="13.8" height="13.8"/><rect x="997.75" y="2004.2" width="13.8" height="13.8"/><rect x="1046.62" y="2002.6" width="13.8" height="13.8"/><rect x="1095.49" y="2005.2" width="13.8" height="13.8"/><rect x="1144.37" y="1966.9" width="13.8" height="13.8"/><rect x="1193.24" y="1910.1" width="13.8" height="13.8"/><rect x="1242.11" y="1838.8" width="13.8" height="13.8"/><rect x="1290.98" y="1745.5" width="13.8" height="13.8"/><rect x="1339.86" y="1614.1" width="13.8" height="13.8"/></g>
<path d="M716 1591H752.55M770.35 1591H806.9" stroke="#4f4f4f" stroke-width="1.6"/>
<circle cx="761.45" cy="1591" r="7.9" fill="#4f4f4f"/>
<path d="M716 1640.1H753.55M769.35 1640.1H806.9" stroke="#ef3b42" stroke-width="1.6"/>
<rect x="754.55" y="1633.2" width="13.8" height="13.8" fill="#ef3b42"/>
<g font-size="40.8"><text x="817.5" y="1605.2">S11(MPa)</text><text x="817.5" y="1654.3">S22(MPa)</text></g>
</g>
</svg>
</body></html>
